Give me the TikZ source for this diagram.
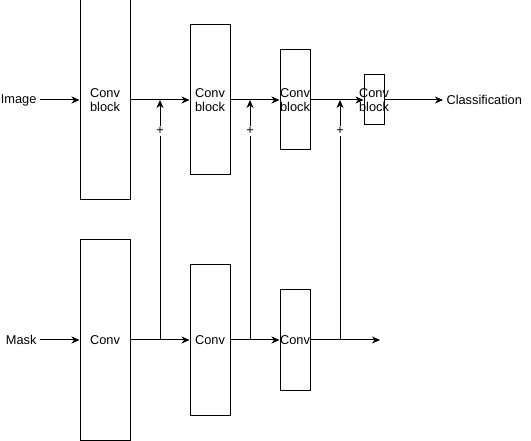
\documentclass[tikz,border=0pt]{standalone}
\usepackage{fontspec}
\setmainfont{Liberation Sans}
\usetikzlibrary{arrows.meta}
\tikzset{
  blk/.style={draw,line width=1pt,inner sep=0pt},
  arr/.style={line width=1pt,-{Stealth[length=8pt,width=7pt,inset=2.5pt]}},
  ln/.style={line width=1pt},
  plus/.style={fill=white,inner sep=1.5pt}
}
\begin{document}
\begin{tikzpicture}[x=1pt,y=-1pt,font=\fontsize{12.8pt}{14pt}\selectfont]
\useasboundingbox (0,0) rectangle (531,441);
\node[blk,minimum width=50,minimum height=200,label={[align=center]center:Conv\\block}] (i1) at (105,100) {};
\node[blk,minimum width=40,minimum height=150,label={[align=center]center:Conv\\block}] (i2) at (210,100) {};
\node[blk,minimum width=30,minimum height=100,label={[align=center]center:Conv\\block}] (i3) at (295,100) {};
\node[blk,minimum width=20,minimum height=50,label={[align=center]center:Conv\\block}] (i4) at (374,100) {};
\node[blk,minimum width=50,minimum height=200,label=center:Conv] (m1) at (105,340) {};
\node[blk,minimum width=40,minimum height=150,label=center:Conv] (m2) at (210,340) {};
\node[blk,minimum width=30,minimum height=100,label=center:Conv] (m3) at (295,340) {};
\node[anchor=east] (img) at (40,100) {Image};
\node[anchor=east] (msk) at (40,340) {Mask};
\node[anchor=west] (cls) at (443,100) {Classification};
\coordinate (j1) at (160,340);
\coordinate (j2) at (250,340);
\coordinate (j3) at (340,340);
\coordinate (t1) at (160,100);
\coordinate (t2) at (250,100);
\coordinate (t3) at (340,100);
\coordinate (out) at (380,340);
% image branch
\draw[arr] (img) -- (i1);
\draw[arr] (i1) -- (i2);
\draw[arr] (i2) -- (i3);
\draw[arr] (i3) -- (i4);
\draw[arr] (i4) -- (cls);
% mask branch
\draw[arr] (msk) -- (m1);
\draw[arr] (m1) -- (m2);
\draw[arr] (m2) -- (m3);
\draw[arr] (m3) -- (out);
% skip connections
\draw[arr] (j1) -- node[plus,pos=0.87] {+} (t1);
\draw[arr] (j2) -- node[plus,pos=0.87] {+} (t2);
\draw[arr] (j3) -- node[plus,pos=0.87] {+} (t3);
\end{tikzpicture}
\end{document}
